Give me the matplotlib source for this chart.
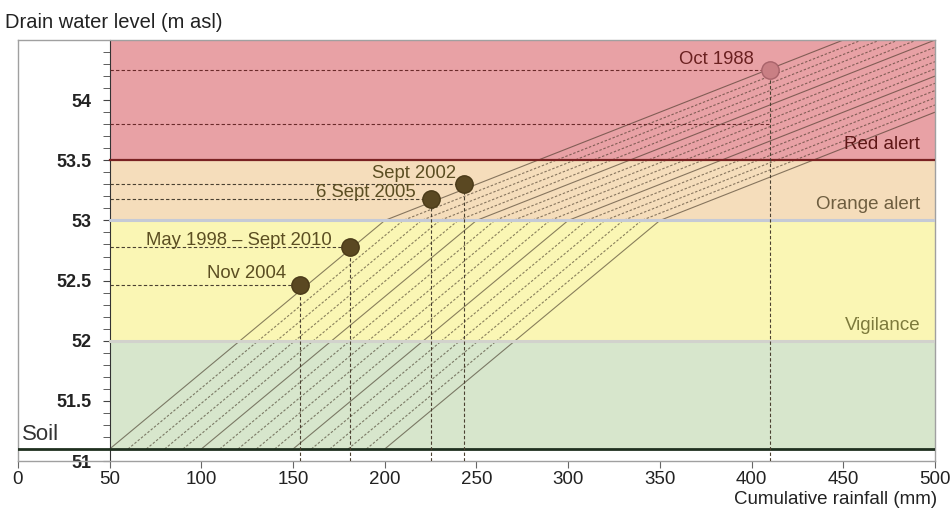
import numpy as np
import matplotlib.pyplot as plt
from matplotlib.lines import Line2D

plt.rcParams['font.family'] = ['Liberation Sans', 'DejaVu Sans']

# alert zones (m asl)
SOIL = 51.1
ZONES = [
    ('Vigilance', 52.0, 53.0, '#faf6b4', '#7d7a3c'),
    ('Orange alert', 53.0, 53.5, '#f5ddbb', '#6e5e40'),
    ('Red alert', 53.5, 54.5, '#e8a1a5', '#5e1616'),
]
GREEN_TOP = 52.0

# threshold lines: start on soil, reach 53 m, then rise slower to x=500
RISE_START = [50, 60, 70, 80, 90, 100, 110, 120, 130, 140, 150, 160, 170, 180, 190, 200]
RISE_TOP = [200, 210, 220, 230, 240, 250, 260, 270, 280, 290, 300, 310, 320, 330, 340, 350]
END_Y = [54.80, 54.74, 54.68, 54.62, 54.56, 54.50, 54.44, 54.38, 54.32, 54.26,
         54.20, 54.14, 54.08, 54.02, 53.96, 53.90]
SOLID_STARTS = [50, 100, 150, 200]

# observed events
EVENTS = ['Nov 2004', 'May 1998 \u2013 Sept 2010', '6 Sept 2005', 'Sept 2002', 'Oct 1988']
EV_X = [154, 181, 225, 243, 410]
EV_Y = [52.46, 52.78, 53.18, 53.30, 54.25]
EXTRA_LEVEL = 53.8

fig = plt.figure(figsize=(9.51, 5.09), dpi=100)
ax = fig.add_axes([0.0189, 0.0943, 0.9643, 0.8271])
ax.set_xlim(0, 500)
ax.set_ylim(51, 54.5)

# zone fills
ax.fill_between([50, 500], SOIL, GREEN_TOP, color='#d7e6cc', lw=0, zorder=0)
for (name, lo, hi, col, tcol) in ZONES:
    ax.fill_between([50, 500], lo, hi, color=col, lw=0, zorder=0)

# threshold lines
for (s, k, e) in zip(RISE_START, RISE_TOP, END_Y):
    ls = '-' if s in SOLID_STARTS else (0, (2.2, 1.6))
    ax.plot([s, k, 500], [SOIL, 53.0, e], color='#3d3020', alpha=0.6,
            lw=0.8, ls=ls, zorder=2, solid_capstyle='butt')

# boundaries
ax.plot([50, 500], [53.5, 53.5], color='#7a2222', lw=1.6, zorder=3)
ax.plot([50, 500], [53.0, 53.0], color='#c5cad6', lw=2.2, zorder=3)
ax.plot([50, 500], [52.0, 52.0], color='#d2d2cc', lw=2.2, zorder=3)
ax.plot([0, 500], [SOIL, SOIL], color='#1f301f', lw=2.0, zorder=3)

# zone labels
for (name, lo, hi, col, tcol) in ZONES:
    ax.text(492, lo + 0.13, name, ha='right', va='center', fontsize=13.5, color=tcol, zorder=5)
ax.text(2, 51.22, 'Soil', ha='left', va='center', fontsize=16, color='#333333', zorder=5)

# event markers, guides, labels
dcol = '#4a4030'
for i, (lab, x, y) in enumerate(zip(EVENTS, EV_X, EV_Y)):
    oct88 = (i == len(EVENTS) - 1)
    gcol = '#6a2a2a' if oct88 else dcol
    ax.plot([50, x], [y, y], color=gcol, lw=0.8, ls=(0, (3, 2)), zorder=3)
    ax.plot([x, x], [51, y], color=dcol, lw=0.8, ls=(0, (3, 2)), zorder=3)
    ax.plot([x], [y], 'o', ms=12.5, color='#c97f84' if oct88 else '#5a4822',
            mec='#a8636a' if oct88 else '#4a3a18', zorder=6)
ax.plot([50, EV_X[-1]], [EXTRA_LEVEL, EXTRA_LEVEL], color='#6a2a2a', lw=0.8, ls=(0, (3, 2)), zorder=3)

LAB_DX = [-8, -10, -8, -4, -9]
LAB_DY = [0.10, 0.05, 0.05, 0.09, 0.09]
tcol = '#5b4e22'
for i, (lab, x, y) in enumerate(zip(EVENTS, EV_X, EV_Y)):
    c = '#6a2020' if i == len(EVENTS) - 1 else tcol
    ax.text(x + LAB_DX[i], y + LAB_DY[i], lab, ha='right', va='center', fontsize=13.3, color=c, zorder=5)

# axes styling
for side in ['top', 'right', 'bottom']:
    ax.spines[side].set_color('#a0a0a0')
    ax.spines[side].set_linewidth(1.0)
ax.spines['left'].set_position(('data', 50))
ax.spines['left'].set_color('#333333')
ax.add_line(Line2D([0, 0], [51, 54.5], color='#a0a0a0', lw=1.0, clip_on=False))

ax.set_xticks(np.arange(0, 501, 50))
ax.set_yticks([51, 51.5, 52, 52.5, 53, 53.5, 54])
ax.set_yticklabels(['51', '51.5', '52', '52.5', '53', '53.5', '54'])
ax.set_yticks(np.arange(51, 54.5, 0.1), minor=True)
ax.tick_params(axis='x', direction='out', length=5, color='#666666', labelsize=13.5, labelcolor='#222222', pad=2)
ax.tick_params(axis='y', which='both', direction='out', length=5, color='#444444', labelsize=13, labelcolor='#222222', pad=8)
for t in ax.get_yticklabels():
    t.set_fontweight('bold')

fig.text(0.005, 0.955, 'Drain water level (m asl)', ha='left', va='center', fontsize=14.5, color='#222222')
fig.text(0.985, 0.018, 'Cumulative rainfall (mm)', ha='right', va='center', fontsize=13.5, color='#222222')

fig.savefig('out.png', dpi=100)
